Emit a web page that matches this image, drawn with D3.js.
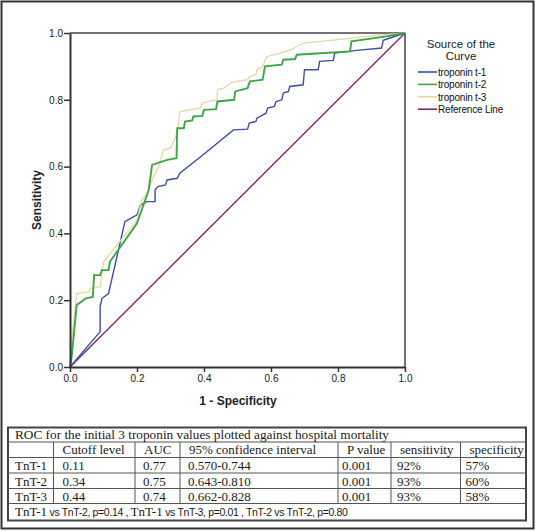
<!DOCTYPE html>
<html>
<head>
<meta charset="utf-8">
<script src="https://cdn.jsdelivr.net/npm/d3@7"></script>
<style>
  html, body { margin: 0; padding: 0; background: #fff; }
  svg { display: block; }
</style>
</head>
<body>
<svg id="chart" width="536" height="531"></svg>
<script>
// ---------------- DATA ----------------
const seriesNames = ["troponin t-1", "troponin t-2", "troponin t-3", "Reference Line"];
const seriesColors = ["#3e4f9e", "#3fa548", "#e3d9a2", "#7a2a72"];

// ROC curve vertices [1 - specificity, sensitivity]
const rocT1 = [[0,0],[0.09,0.106],[0.09,0.18],[0.095,0.205],[0.115,0.22],[0.164,0.435],[0.19,0.45],[0.2,0.455],[0.21,0.485],[0.23,0.495],[0.254,0.495],[0.254,0.53],[0.262,0.54],[0.285,0.545],[0.29,0.56],[0.32,0.565],[0.328,0.58],[0.403,0.64],[0.488,0.71],[0.53,0.712],[0.535,0.73],[0.555,0.735],[0.558,0.745],[0.585,0.76],[0.59,0.775],[0.61,0.78],[0.615,0.795],[0.632,0.80],[0.637,0.82],[0.652,0.825],[0.656,0.84],[0.696,0.845],[0.7,0.89],[0.741,0.89],[0.745,0.915],[0.786,0.918],[0.79,0.94],[0.856,0.948],[0.93,0.955],[0.935,0.978],[0.955,0.985],[1,1]];
const rocT2 = [[0,0],[0.005,0.03],[0.02,0.186],[0.04,0.2],[0.045,0.205],[0.068,0.21],[0.072,0.275],[0.09,0.275],[0.095,0.29],[0.115,0.29],[0.119,0.315],[0.2,0.43],[0.235,0.53],[0.245,0.605],[0.265,0.612],[0.29,0.62],[0.318,0.625],[0.32,0.715],[0.34,0.715],[0.343,0.735],[0.365,0.738],[0.368,0.75],[0.395,0.752],[0.4,0.77],[0.436,0.772],[0.44,0.795],[0.49,0.80],[0.493,0.825],[0.53,0.835],[0.537,0.855],[0.575,0.86],[0.582,0.9],[0.632,0.905],[0.637,0.92],[0.672,0.922],[0.677,0.935],[0.836,0.945],[0.84,0.975],[0.945,0.99],[1,1]];
const rocT3 = [[0,0],[0.005,0.08],[0.02,0.22],[0.055,0.225],[0.06,0.235],[0.09,0.24],[0.095,0.28],[0.1,0.315],[0.2,0.44],[0.214,0.5],[0.23,0.52],[0.245,0.56],[0.265,0.6],[0.279,0.65],[0.3,0.655],[0.31,0.675],[0.322,0.71],[0.328,0.765],[0.37,0.772],[0.388,0.775],[0.395,0.79],[0.415,0.795],[0.438,0.8],[0.44,0.83],[0.46,0.835],[0.478,0.85],[0.5,0.855],[0.53,0.86],[0.537,0.87],[0.555,0.875],[0.558,0.89],[0.575,0.9],[0.587,0.929],[0.627,0.94],[0.66,0.95],[0.696,0.97],[0.8,0.98],[0.886,0.99],[1,1]];
const rocRef = [[0,0],[1,1]];

const axisTicks = [0, 0.2, 0.4, 0.6, 0.8, 1.0];
const xAxisTitle = "1 - Specificity";
const yAxisTitle = "Sensitivity";
const legendTitle = ["Source of the", "Curve"];

// Table
const tableTitle = "ROC for the initial 3 troponin values plotted against hospital mortality";
const tableHeader = ["", "Cutoff level", "AUC", "95% confidence interval", "P value", "sensitivity", "specificity"];
const tableRowLabels = ["TnT-1", "TnT-2", "TnT-3"];
const cutoffLevels = ["0.11", "0.34", "0.44"];
const aucValues = ["0.77", "0.75", "0.74"];
const confIntervals = ["0.570-0.744", "0.643-0.810", "0.662-0.828"];
const pValues = ["0.001", "0.001", "0.001"];
const sensitivities = ["92%", "93%", "93%"];
const specificities = ["57%", "60%", "58%"];
const footerParts = [
  ["TnT-1", "serif"], [" vs TnT-2, p=0.14 , ", "sans"],
  ["TnT-1", "serif"], [" vs TnT-3, p=0.01 , ", "sans"],
  ["TnT-2 vs TnT-2, p=0.80", "sans"]
];

// ---------------- DRAW ----------------
const svg = d3.select("#chart");
const W = 536, H = 531;

svg.append("rect").attr("x", 0).attr("y", 0).attr("width", W).attr("height", H).attr("fill", "#fff");
// outer frame
svg.append("rect").attr("x", 1.5).attr("y", 1.5).attr("width", 532).attr("height", 527)
  .attr("fill", "none").attr("stroke", "#333").attr("stroke-width", 2);

const x = d3.scaleLinear().domain([0, 1]).range([70, 405]);
const y = d3.scaleLinear().domain([0, 1]).range([367, 33]);

const sansFont = "'Liberation Sans', Arial, sans-serif";
const serifFont = "'Liberation Serif', 'Times New Roman', serif";

// frame top/right
svg.append("line").attr("x1", x(0)).attr("x2", x(1)).attr("y1", y(1)).attr("y2", y(1))
  .attr("stroke", "#444").attr("stroke-width", 1.5);
svg.append("line").attr("x1", x(1)).attr("x2", x(1)).attr("y1", y(1)).attr("y2", y(0))
  .attr("stroke", "#444").attr("stroke-width", 1.5);

// curves
const line = d3.line().x(d => x(d[0])).y(d => y(d[1]));
const curves = [
  {data: rocRef, color: seriesColors[3], w: 1.4},
  {data: rocT1, color: seriesColors[0], w: 1.4},
  {data: rocT3, color: seriesColors[2], w: 1.3},
  {data: rocT2, color: seriesColors[1], w: 1.9}
];
curves.forEach(c => {
  svg.append("path").datum(c.data).attr("d", line)
    .attr("fill", "none").attr("stroke", c.color).attr("stroke-width", c.w)
    .attr("stroke-linejoin", "miter");
});

// axes
const fmt = d3.format(".1f");
const gx = svg.append("g").attr("transform", `translate(0,${y(0)})`)
  .call(d3.axisBottom(x).tickValues(axisTicks).tickFormat(fmt).tickSize(5).tickSizeOuter(0).tickPadding(3));
const gy = svg.append("g").attr("transform", `translate(${x(0)},0)`)
  .call(d3.axisLeft(y).tickValues(axisTicks).tickFormat(fmt).tickSize(6).tickSizeOuter(0).tickPadding(1));
[gx, gy].forEach(g => {
  g.select(".domain").attr("stroke", "#333").attr("stroke-width", 2);
  g.selectAll(".tick line").attr("stroke", "#333").attr("stroke-width", 1.5);
  g.selectAll(".tick text").attr("fill", "#1a1a1a").style("font-family", sansFont).style("font-size", "10px");
});

// axis titles
svg.append("text").attr("x", 238).attr("y", 405).attr("text-anchor", "middle")
  .style("font-family", sansFont).style("font-size", "12px").style("font-weight", "bold").attr("fill", "#222")
  .text(xAxisTitle);
svg.append("text").attr("transform", `translate(41,200) rotate(-90)`).attr("text-anchor", "middle")
  .style("font-family", sansFont).style("font-size", "12px").style("font-weight", "bold").attr("fill", "#222")
  .text(yAxisTitle);

// legend
legendTitle.forEach((t, i) => {
  svg.append("text").attr("x", 461).attr("y", 47.5 + i * 12).attr("text-anchor", "middle")
    .style("font-family", sansFont).style("font-size", "11.5px").attr("fill", "#222").text(t);
});
const legendColors = [seriesColors[0], seriesColors[1], seriesColors[2], seriesColors[3]];
seriesNames.forEach((n, i) => {
  const ly = 72 + i * 12.4;
  svg.append("line").attr("x1", 418).attr("x2", 437).attr("y1", ly).attr("y2", ly)
    .attr("stroke", legendColors[i]).attr("stroke-width", 1.6);
  svg.append("text").attr("x", 438).attr("y", ly + 3.8)
    .style("font-family", sansFont).style("font-size", "10px").style("letter-spacing", "-0.2px")
    .attr("fill", "#111").text(n);
});

// ---------------- TABLE ----------------
const tL = 8, tR = 526;
const rowYs = [427.5, 442, 457.5, 473, 488.5, 503.5, 520.5];
const colXs = [tL, 53.5, 135, 180, 338, 391, 460.5, tR];
const tg = svg.append("g");
// outer border
tg.append("rect").attr("x", tL).attr("y", rowYs[0]).attr("width", tR - tL).attr("height", rowYs[6] - rowYs[0])
  .attr("fill", "none").attr("stroke", "#444").attr("stroke-width", 2);
// horizontal lines
rowYs.slice(1, 6).forEach(yy => {
  tg.append("line").attr("x1", tL).attr("x2", tR).attr("y1", yy).attr("y2", yy)
    .attr("stroke", "#555").attr("stroke-width", 1);
});
// vertical lines (header + data rows)
colXs.slice(1, 7).forEach(xx => {
  tg.append("line").attr("x1", xx).attr("x2", xx).attr("y1", rowYs[1]).attr("y2", rowYs[5])
    .attr("stroke", "#555").attr("stroke-width", 1);
});
const cellText = (txt, cx, by, opts = {}) => tg.append("text").attr("x", cx).attr("y", by)
  .style("font-family", opts.font || serifFont).style("font-size", (opts.size || 13) + "px")
  .attr("fill", "#1a1a1a").text(txt);

cellText(tableTitle, 15, 439).attr("textLength", 374).attr("lengthAdjust", "spacingAndGlyphs");
tableHeader.forEach((h, i) => { if (h) cellText(h, colXs[i] + 9, 454); });
const cols = [tableRowLabels, cutoffLevels, aucValues, confIntervals, pValues, sensitivities, specificities];
const padL = [7, 9, 8, 8, 4, 6, 5];
tableRowLabels.forEach((_, r) => {
  cols.forEach((col, c) => {
    cellText(col[r], colXs[c] + padL[c], rowYs[r + 2] + 12.7);
  });
});
// footer
const ft = tg.append("text").attr("x", 15).attr("y", 515.5).attr("fill", "#1a1a1a");
footerParts.forEach(p => {
  ft.append("tspan")
    .style("font-family", p[1] === "serif" ? serifFont : sansFont)
    .style("font-size", p[1] === "serif" ? "13px" : "10.5px")
    .style("letter-spacing", p[1] === "serif" ? "0px" : "-0.35px")
    .text(p[0]);
});
</script>
</body>
</html>
